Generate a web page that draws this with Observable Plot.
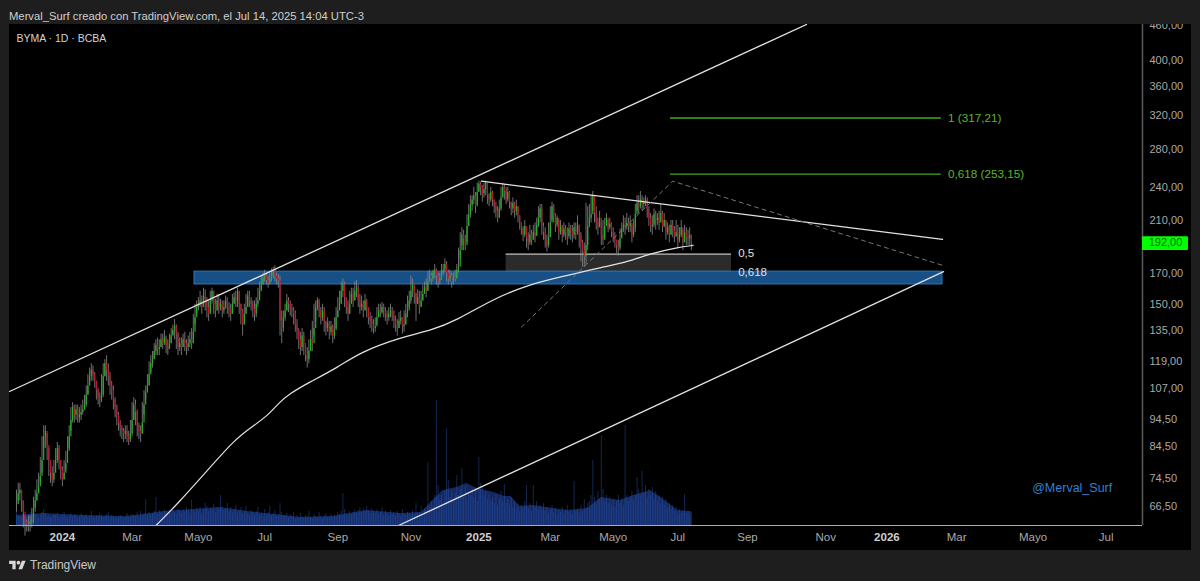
<!DOCTYPE html>
<html>
<head>
<meta charset="utf-8">
<script src="https://cdn.jsdelivr.net/npm/d3@7"></script>
<script src="https://cdn.jsdelivr.net/npm/@observablehq/plot@0.6"></script>
<style>
html,body{margin:0;padding:0;background:#1e1e1e;width:1200px;height:581px;overflow:hidden;font-family:"Liberation Sans",sans-serif}
#head{position:absolute;left:9px;top:9px;font-size:11.25px;line-height:14px;color:#cfcfcf;white-space:nowrap}
#chart{position:absolute;left:9px;top:24px;width:1182px;height:526px;background:#000;overflow:hidden}
#chart svg{position:absolute;left:0;top:0;background:transparent}
#foot{position:absolute;left:9px;top:557px;display:flex;align-items:center;gap:4px;color:#c8c8c8;font-size:12px;line-height:16px}
</style>
</head>
<body>
<div id="head">Merval_Surf creado con TradingView.com, el Jul 14, 2025 14:04 UTC-3</div>
<div id="chart"></div>
<div id="foot"><svg width="17" height="13" viewBox="0 0 36 28"><path fill="#d8d8d8" d="M14 22H7V11H0V4h14v18zM28 22h-8l7.5-18h8L28 22z"/><circle fill="#d8d8d8" cx="20" cy="8" r="4"/></svg><span>TradingView</span></div>
<script>
const closes = [
67,70,71,68,65,62.5,62,62,62.5,63,
66,68,70,72,75,80,88,90,85,80,
76,74,76,80,84,80,77,74,76,79,
83,88,94,99,96,98,95,96,97,98,
100,104,108,112,115,113,110,106,103,102,
104,112,118,115,112,108,106,102,99,96,
93,91,90,89,90,88,87,89,94,100,
97,92,90,89,93,100,105,108,113,118,
120,124,127,125,126,130,128,131,127,125,
128,132,135,137,133,126,128,126,130,128,
126,128,130,128,134,142,148,150,152,148,
155,152,148,144,152,158,150,146,152,148,
150,146,148,152,148,147,144,150,154,152,
158,150,146,138,144,148,155,152,150,147,
144,150,152,158,162,166,168,165,163,166,
168,172,168,166,165,140,136,142,146,152,
150,147,146,144,138,135,130,126,132,128,
122,120,124,130,128,136,148,152,146,142,
146,140,136,139,134,137,132,135,142,146,
150,158,162,154,148,144,150,156,152,158,
160,152,148,150,146,152,148,142,140,138,
136,137,142,146,145,148,146,144,142,144,
146,143,140,138,136,140,142,137,138,144,
146,152,158,162,156,150,154,148,152,156,
160,158,164,168,166,170,172,168,164,166,
170,172,176,170,166,168,164,167,166,172,
174,186,198,195,190,205,215,223,228,232,
222,235,243,240,234,238,244,232,228,235,
228,222,218,212,220,230,240,236,228,235,
226,220,225,218,222,214,208,203,198,205,
196,192,198,194,200,197,206,212,220,205,
200,194,190,196,208,222,214,206,212,200,
205,198,203,200,197,203,201,198,204,200,
206,198,192,186,182,190,205,212,215,232,
216,208,204,212,198,194,205,212,204,207,
200,197,194,190,188,195,203,206,205,208,
205,208,198,203,215,225,222,228,224,226,
228,218,212,205,206,215,210,212,208,216,
205,210,200,204,198,206,202,197,200,194,
198,204,192,200,196,195,198,192];
const highs = [
71,73,73,71,68,64,63,64,64,66,
69,71,74,76,81,88,92,92,89,84,
80,78,80,84,86,85,80,78,80,83,
88,92,99,101,100,100,100,99,100,102,
104,108,113,116,118,117,114,110,107,105,
113,118,120,122,118,114,110,108,103,100,
97,94,92,91,92,92,90,94,101,103,
102,98,93,92,101,106,108,113,119,122,
124,128,130,131,130,133,133,135,132,130,
133,136,138,141,138,134,131,131,133,134,
130,132,134,136,144,150,152,154,158,155,
160,159,154,152,158,160,158,153,156,156,
153,152,152,155,154,151,150,156,157,158,
160,158,150,147,150,156,158,158,154,152,
152,154,160,164,168,170,172,170,168,170,
173,174,175,170,169,168,146,146,150,156,
154,152,150,148,146,141,136,134,136,134,
128,126,130,135,140,150,152,154,153,148,
150,148,140,142,140,140,138,142,148,154,
158,164,166,164,154,152,158,160,160,164,
165,162,156,155,152,156,153,148,145,143,
141,142,148,150,150,151,150,148,146,148,
150,148,146,143,141,145,146,142,146,150,
155,158,168,166,162,157,159,158,158,162,
164,166,171,172,170,172,176,173,170,170,
176,176,180,178,172,172,170,170,172,176,
188,200,204,202,198,215,224,232,232,240,
235,244,246,245,242,244,246,242,234,240,
236,228,226,222,228,240,244,242,240,240,
236,226,230,226,228,222,214,208,205,210,
204,200,206,202,206,208,212,222,224,224,
208,204,198,208,222,226,224,216,214,210,
210,206,208,206,204,208,206,206,208,208,
214,206,200,194,192,225,222,224,232,236,
232,222,212,218,208,210,212,216,210,212,
208,204,200,194,194,203,208,214,212,216,
212,214,206,210,224,232,232,236,232,230,
232,230,222,216,214,220,218,216,218,224,
218,216,210,208,206,210,210,205,210,206,
204,210,202,206,204,202,204,198];
const lows = [
65,68,68,65,61,59,60,60,60,61,
62,65,68,70,73,76,84,84,80,75,
73,72,73,78,79,77,74,72,74,77,
81,84,90,93,93,94,93,93,94,96,
98,99,104,108,110,110,107,102,100,99,
101,103,112,110,108,104,102,98,95,92,
90,88,87,86,87,86,85,86,88,94,
92,88,87,86,89,96,102,105,108,114,
116,120,122,122,122,126,125,127,123,122,
125,128,132,130,125,122,124,122,126,124,
122,124,126,125,128,138,144,146,148,144,
148,146,142,140,144,150,144,142,146,144,
146,142,144,147,144,142,140,144,150,148,
148,144,138,132,138,144,148,148,146,142,
140,142,148,154,158,162,164,162,160,162,
164,166,164,162,160,132,128,134,140,146,
145,143,142,138,134,130,125,122,124,122,
119,116,118,124,124,132,140,146,142,138,
140,134,132,134,130,132,128,130,136,142,
146,150,154,148,144,140,144,150,148,152,
154,148,144,146,142,146,142,138,136,134,
133,134,138,142,142,144,142,140,138,140,
142,140,136,134,132,136,138,133,134,138,
142,148,150,154,150,140,150,144,148,152,
156,154,158,164,162,164,166,162,160,162,
165,168,170,164,162,164,160,162,164,166,
170,180,190,186,186,192,205,212,218,224,
216,224,236,232,226,230,232,224,222,226,
222,216,212,208,212,218,230,228,224,226,
220,214,216,212,214,208,202,198,193,196,
188,186,190,190,194,192,198,204,208,198,
194,188,185,188,196,210,208,200,204,194,
198,192,196,194,190,195,194,192,195,194,
198,188,178,174,174,176,186,204,208,218,
208,202,198,204,190,190,196,206,200,202,
196,192,188,184,182,186,196,200,198,202,
200,200,192,196,200,218,216,220,218,220,
222,212,205,200,198,204,202,206,202,208,
200,204,194,198,192,198,196,192,196,188,
192,196,186,192,190,190,190,186];
const volumes = [
14,10,9,8,12,10,9,11,13,10,
9,12,11,8,10,13,16,12,9,10,
8,9,11,10,12,8,9,10,13,9,
8,10,12,9,11,10,8,9,12,10,
9,11,8,10,14,9,8,10,9,12,
10,8,9,11,13,8,10,9,7,9,
8,10,9,7,8,12,9,8,11,10,
9,13,8,14,10,12,26,11,13,10,
12,14,28,11,15,13,12,16,14,11,
15,12,17,13,11,16,14,12,15,13,
18,14,12,25,15,13,17,14,18,12,
16,22,19,14,17,15,21,13,18,16,
30,19,15,17,22,14,18,13,16,20,
12,15,18,11,14,19,12,10,15,13,
11,14,18,10,12,9,16,11,13,19,
10,12,15,9,11,22,13,9,10,12,
8,11,9,13,7,10,8,12,9,7,
10,9,14,8,7,11,9,8,13,9,
7,10,12,8,9,11,8,10,9,13,
11,14,32,16,12,10,14,11,13,16,
12,15,18,13,16,14,19,15,12,17,
14,12,16,11,13,18,10,14,12,9,
15,11,13,10,14,12,9,16,11,10,
13,12,10,15,11,22,13,12,19,10,
16,14,63,18,24,20,30,125,40,26,
30,22,34,97,45,28,34,24,32,50,
30,36,57,28,40,26,32,30,36,28,
34,24,68,42,38,30,34,26,31,24,
28,22,30,20,26,34,24,41,22,26,
20,28,18,24,16,22,14,20,17,24,
40,16,22,14,40,18,24,16,20,15,
22,14,18,12,16,20,13,17,11,15,
13,18,12,16,20,13,15,11,44,14,
16,12,20,14,26,18,22,24,30,65,
28,22,34,26,90,36,24,30,22,28,
20,26,18,24,30,22,26,20,100,30,
24,28,34,26,30,48,36,30,54,32,
40,28,36,30,38,26,34,24,30,22,
28,20,26,18,22,16,20,14,18,12,
16,12,14,31,12,14,10,13];
const volMaBar = [0,16,39,63,75,86,112,120,136,157,167,186,206,226,238,245,251,259,265,271,281,287,291,296,304,312,324,336,344,355,363,373,379,389,396,397];
const volMaVal = [10,12,10,9,11,14,17,18,14,10,8,9,15,12,13,25,35,38,42,37,33,29,29,19,20,18,15,17,28,25,30,35,28,15,14,14];
const maBar = [82,95,116,128,138,148,154,161,171,189,202,226,244,259,279,301,324,344,359,373,389,398];
const maVal = [61.6,67.3,79.1,86.7,91.4,95.9,100.7,104.8,109.1,116.3,123.6,131.3,135,140.6,152.4,162.4,168.4,174,177.5,184,188.5,190];
const channelUpper = [[-4.1,105.6],[464.7,462]];
const channelLower = [[224.7,61.6],[545.3,171]];
const wedgeTop = [[273.5,246],[544.7,194.7]];
const dashPath = [[297,136.8],[386,246],[544.7,175.4]];
const fibLevels = [317.21,253.15];
const fibLabels = ["1 (317,21)","0,618 (253,15)"];
const fibBars = [384.7,544];
const blueZone = {bar1:104.7,bar2:544.7,lo:162.4,hi:171};
const grayZone = {bar1:288,bar2:420.6,lo:170.5,hi:183.4};
const grayLabels = ["0,5","0,618"];
const priceTicks = [460,400,360,320,280,240,210,170,150,135,119,107,94.5,84.5,74.5,66.5];
const monthTicks = [68,107,146,189,232,314,351,389,430,476,553,598,641];
const monthLabels = ["Mar","Mayo","Jul","Sep","Nov","Mar","Mayo","Jul","Sep","Nov","Mar","Mayo","Jul"];
const yearTicks = [27,272,512];
const yearLabels = ["2024","2025","2026"];
const lastPrice = 192;

const xDomain = [-4.12,662.35], xRange = [0,1133];
const commaFmt = d => d.toFixed(2).replace(".",",");
const bars = closes.map((c,i) => ({i,close:c,open:i?closes[i-1]:c,high:highs[i],low:lows[i],vol:volumes[i]}));
const maLine = maBar.map((b,k) => [b,maVal[k]]);
const volMa = volMaBar.map((b,k) => ({b,v:volMaVal[k]}));

const base = {width:1182,height:526,marginLeft:0,marginRight:49,marginTop:0,marginBottom:25,
  style:{background:"transparent",fontFamily:"'Liberation Sans',sans-serif"}};

const volPlot = Plot.plot({...base,
  x:{domain:xDomain,range:xRange,axis:null},
  y:{domain:[0,501],axis:null},
  marks:[
    Plot.areaY(volMa,{x:"b",y:"v",fill:"#14285f"}),
    Plot.ruleX(bars,{x:"i",y1:0,y2:"vol",stroke:"#2a5cc0",strokeOpacity:0.42,strokeWidth:1})
  ]});

const white = "#e2e2e2";
const pricePlot = Plot.plot({...base,
  x:{domain:xDomain,range:xRange,axis:null},
  y:{type:"log",domain:[61.6,462],axis:null},
  marks:[
    Plot.rect([grayZone],{x1:"bar1",x2:"bar2",y1:"lo",y2:"hi",fill:"#2b2b2b"}),
    Plot.ruleY([grayZone.hi],{x1:grayZone.bar1,x2:grayZone.bar2,stroke:"#bdbdbd",strokeWidth:1.2}),
    Plot.ruleY([grayZone.lo],{x1:grayZone.bar1,x2:grayZone.bar2,stroke:"#f0f0f0",strokeWidth:1.2}),
    Plot.rect([blueZone],{x1:"bar1",x2:"bar2",y1:"lo",y2:"hi",fill:"#174f87",stroke:"#2f78b4",strokeWidth:1}),
    Plot.ruleX(bars,{x:"i",y1:"low",y2:"high",stroke:"#8c8c8c",strokeWidth:0.8}),
    Plot.ruleX(bars.filter(d=>d.close>=d.open),{x:"i",y1:"open",y2:"close",stroke:"#1dbb1d",strokeWidth:1.2}),
    Plot.ruleX(bars.filter(d=>d.close<d.open),{x:"i",y1:"open",y2:"close",stroke:"#c0142c",strokeWidth:1.2}),
    Plot.line(maLine,{stroke:white,strokeWidth:1.2,curve:"basis"}),
    Plot.line(channelUpper,{stroke:white,strokeWidth:1.3}),
    Plot.line(channelLower,{stroke:white,strokeWidth:1.3}),
    Plot.line(wedgeTop,{stroke:white,strokeWidth:1.3}),
    Plot.line(dashPath,{stroke:"#777",strokeWidth:1,strokeDasharray:"4,4"}),
    Plot.ruleY(fibLevels,{x1:fibBars[0],x2:fibBars[1],stroke:"#46a820",strokeWidth:1.3}),
    Plot.text(fibLevels,{x:548,y:d=>d,text:(d,i)=>fibLabels[i],textAnchor:"start",fill:"#5cb52e",fontSize:11.7}),
    Plot.text(grayLabels,{x:424.5,y:(d,i)=>[184,170.5][i],text:d=>d,textAnchor:"start",fill:"#e0e0e0",fontSize:11.5}),
    Plot.text(["@Merval_Surf"],{x:621,y:71.6,text:d=>d,fill:"#2f7fd6",fontSize:12.5}),
    Plot.text(["BYMA · 1D · BCBA"],{frameAnchor:"top-left",dx:7,dy:10,text:d=>d,fill:"#d4d4d4",fontSize:10.5}),
    Plot.ruleX([xDomain[1]],{stroke:"#5a5a5a",strokeWidth:1.5}),
    Plot.ruleY([61.6],{stroke:"#a8adb8",strokeWidth:1}),
    Plot.rect([lastPrice],{x1:xDomain[1],x2:689.4,y1:186.2,y2:196.8,fill:"#00ff00",rx:1}),
    Plot.text([lastPrice],{x:666,y:d=>d,text:commaFmt,textAnchor:"start",fill:"#0b6b0b",fontSize:11}),
    Plot.axisY({anchor:"right",ticks:priceTicks,tickFormat:commaFmt,tickSize:0,tickPadding:7,textAnchor:"start",label:null,fill:"#a9a9a9",fontSize:11}),
    Plot.axisX({anchor:"bottom",ticks:monthTicks,tickFormat:(d,i)=>monthLabels[i],tickSize:0,tickPadding:7,label:null,fill:"#a9a9a9",fontSize:11.5}),
    Plot.axisX({anchor:"bottom",ticks:yearTicks,tickFormat:(d,i)=>yearLabels[i],tickSize:0,tickPadding:7,label:null,fill:"#cfcfcf",fontSize:11.5,fontWeight:"bold"})
  ]});

const host = document.getElementById("chart");
host.append(volPlot, pricePlot);
</script>
</body>
</html>
